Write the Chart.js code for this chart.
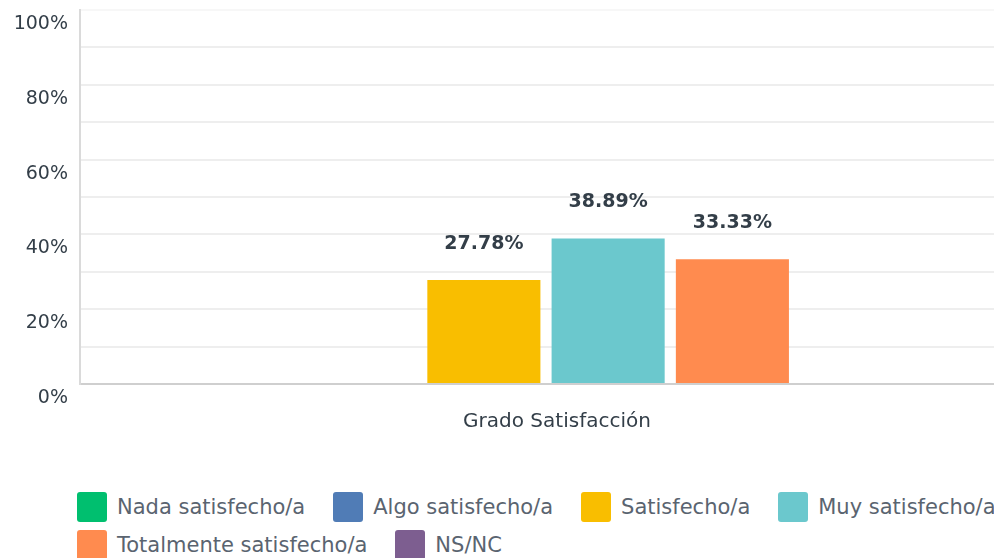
<!DOCTYPE html>
<html lang="es">
<head>
  <meta charset="UTF-8">
  <title>Grado Satisfacción</title>
  <script src="https://cdn.jsdelivr.net/npm/chart.js"></script>
  <style>
    body { margin: 0; overflow: hidden; background: #fff; font-family: "DejaVu Sans", sans-serif; }
    #wrap { position: relative; width: 1030px; height: 558px; }
    #box { position: absolute; left: 0; top: 0; width: 1030px; height: 460px; }
    #legend { position: absolute; left: 77px; top: 492px; width: 960px; display: flex; flex-wrap: wrap; row-gap: 8px; }
    .item { display: flex; align-items: center; margin-right: 28px; height: 30px; font-size: 21px; color: #5a6470; white-space: nowrap; }
    .sw { width: 30px; height: 30px; border-radius: 3px; margin-right: 10px; }
  </style>
</head>
<body>
  <div id="wrap">
    <div id="box"><canvas id="barChart"></canvas></div>
    <div id="legend"></div>
  </div>

  <script>
    const categorias = ['Grado Satisfacción'];
    const series = ['Nada satisfecho/a', 'Algo satisfecho/a', 'Satisfecho/a', 'Muy satisfecho/a', 'Totalmente satisfecho/a', 'NS/NC'];
    const valores = [0, 0, 27.78, 38.89, 33.33, 0];
    const colores = ['#00bf6f', '#507cb6', '#f9be00', '#6bc8cd', '#ff8b4f', '#7d5e90'];

    const datasets = series.map((nombre, i) => ({
      label: nombre,
      data: [valores[i]],
      backgroundColor: colores[i],
      barPercentage: 0.91,
      categoryPercentage: 0.8
    }));

    // etiquetas encima de cada barra
    const etiquetas = {
      id: 'etiquetas',
      afterDatasetsDraw(chart) {
        const ctx = chart.ctx;
        ctx.save();
        ctx.font = 'bold 19px "DejaVu Sans"';
        ctx.fillStyle = '#333e48';
        ctx.textAlign = 'center';
        ctx.textBaseline = 'middle';
        chart.data.datasets.forEach((ds, i) => {
          const meta = chart.getDatasetMeta(i);
          meta.data.forEach((bar, j) => {
            const v = ds.data[j];
            if (v > 0) ctx.fillText(v.toFixed(2) + '%', bar.x, bar.y - 36);
          });
        });
        ctx.restore();
      }
    };

    new Chart(document.getElementById('barChart'), {
      type: 'bar',
      data: { labels: categorias, datasets: datasets },
      options: {
        responsive: true,
        maintainAspectRatio: false,
        animation: false,
        layout: { padding: { top: 10, right: 18, left: 0, bottom: 0 } },
        plugins: {
          legend: { display: false },
          tooltip: { enabled: false }
        },
        scales: {
          x: {
            grid: { display: false, drawTicks: false },
            border: { color: '#cfcfcf', width: 2 },
            ticks: { color: '#333e48', font: { family: 'DejaVu Sans', size: 20 }, padding: 26, labelOffset: 11 },
            afterFit(scale) { scale.height = 76; }
          },
          y: {
            min: 0,
            max: 100,
            grid: {
              drawTicks: false,
              lineWidth: 2,
              color: c => c.tick && c.tick.value === 100 ? '#f7f7f7' : '#eeeeee'
            },
            border: { color: '#dadada', width: 2 },
            ticks: {
              stepSize: 10,
              autoSkip: false,
              color: '#333e48',
              font: { family: 'DejaVu Sans', size: 19 },
              padding: 12,
              labelOffset: 14,
              callback: v => v % 20 === 0 ? v + '%' : ''
            },
            afterFit(scale) {
              scale.width = 80;
              scale.paddingTop = 0;
              scale.paddingBottom = 0;
            }
          }
        }
      },
      plugins: [etiquetas]
    });

    const leyenda = document.getElementById('legend');
    series.forEach((nombre, i) => {
      const item = document.createElement('div');
      item.className = 'item';
      const sw = document.createElement('span');
      sw.className = 'sw';
      sw.style.background = colores[i];
      item.appendChild(sw);
      item.appendChild(document.createTextNode(nombre));
      leyenda.appendChild(item);
    });
  </script>
</body>
</html>
